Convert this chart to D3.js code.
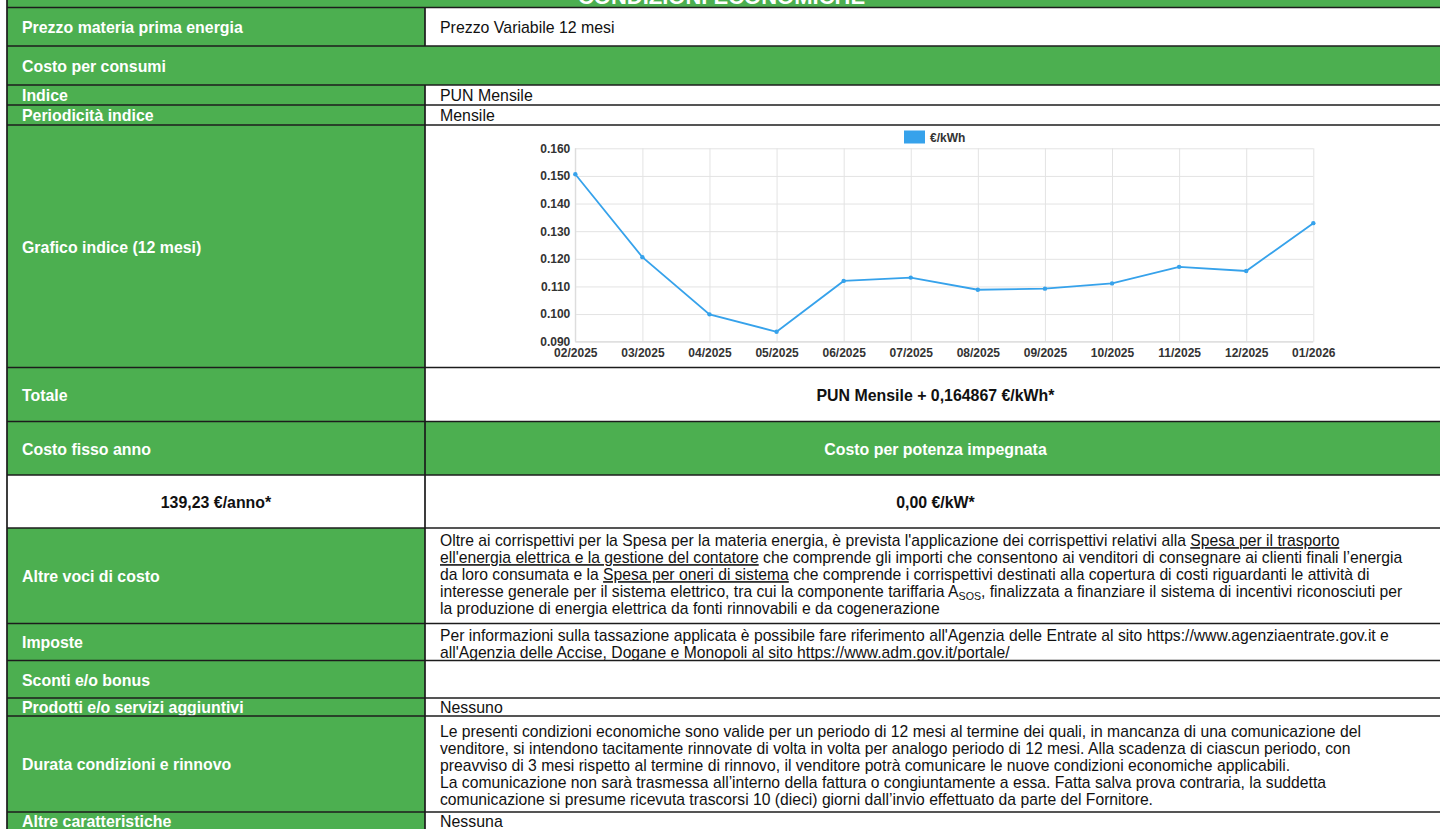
<!DOCTYPE html>
<html><head><meta charset="utf-8">
<script src="https://cdn.jsdelivr.net/npm/d3@7"></script>
<style>html,body{margin:0;padding:0;background:#fff;overflow:hidden}</style>
</head><body><svg id="c" width="1440" height="829"></svg>
<script>
// ---------------- DATA ----------------
const months = ["02/2025","03/2025","04/2025","05/2025","06/2025","07/2025","08/2025","09/2025","10/2025","11/2025","12/2025","01/2026"];
const punValues = [0.1506,0.1206,0.0999,0.0936,0.1120,0.1132,0.1088,0.1092,0.1111,0.1171,0.1156,0.1329];
const yTickValues = [0.090,0.100,0.110,0.120,0.130,0.140,0.150,0.160];
const seriesName = "€/kWh";
const titleText = "CONDIZIONI ECONOMICHE";

const rowLabels = ["Prezzo materia prima energia","Costo per consumi","Indice","Periodicità indice","Grafico indice (12 mesi)","Totale","Costo fisso anno","139,23 €/anno*","Altre voci di costo","Imposte","Sconti e/o bonus","Prodotti e/o servizi aggiuntivi","Durata condizioni e rinnovo","Altre caratteristiche"];
const rowValues = ["Prezzo Variabile 12 mesi","","PUN Mensile","Mensile","","PUN Mensile + 0,164867 €/kWh*","Costo per potenza impegnata","0,00 €/kW*","","","","Nessuno","","Nessuna"];

const altreVociLines = [
  [{t:"Oltre ai corrispettivi per la Spesa per la materia energia, è prevista l'applicazione dei corrispettivi relativi alla "},{t:"Spesa per il trasporto",u:1}],
  [{t:"ell'energia elettrica e la gestione del contatore",u:1},{t:" che comprende gli importi che consentono ai venditori di consegnare ai clienti finali l’energia"}],
  [{t:"da loro consumata e la "},{t:"Spesa per oneri di sistema",u:1},{t:" che comprende i corrispettivi destinati alla copertura di costi riguardanti le attività di"}],
  [{t:"interesse generale per il sistema elettrico, tra cui la componente tariffaria A"},{t:"SOS",s:1},{t:", finalizzata a finanziare il sistema di incentivi riconosciuti per"}],
  [{t:"la produzione di energia elettrica da fonti rinnovabili e da cogenerazione"}]
];
const imposteLines = [
  [{t:"Per informazioni sulla tassazione applicata è possibile fare riferimento all'Agenzia delle Entrate al sito https://www.agenziaentrate.gov.it e"}],
  [{t:"all'Agenzia delle Accise, Dogane e Monopoli al sito https://www.adm.gov.it/portale/"}]
];
const durataLines = [
  [{t:"Le presenti condizioni economiche sono valide per un periodo di 12 mesi al termine dei quali, in mancanza di una comunicazione del"}],
  [{t:"venditore, si intendono tacitamente rinnovate di volta in volta per analogo periodo di 12 mesi. Alla scadenza di ciascun periodo, con"}],
  [{t:"preavviso di 3 mesi rispetto al termine di rinnovo, il venditore potrà comunicare le nuove condizioni economiche applicabili."}],
  [{t:"La comunicazione non sarà trasmessa all’interno della fattura o congiuntamente a essa. Fatta salva prova contraria, la suddetta"}],
  [{t:"comunicazione si presume ricevuta trascorsi 10 (dieci) giorni dall’invio effettuato da parte del Fornitore."}]
];

// ---------------- LAYOUT ----------------
const GREEN = "#4caf50";
const FONT = "'Liberation Sans', Arial, Helvetica, sans-serif";
const X0 = 7, XC = 425, X1 = 1446;
const edges = [-40, 7.5, 46, 85, 105, 125, 367.5, 421.5, 475, 528, 623.5, 660.5, 698, 716, 812, 850];
const fills = [["span",GREEN],[GREEN,"#fff"],["span",GREEN],[GREEN,"#fff"],[GREEN,"#fff"],[GREEN,"#fff"],[GREEN,"#fff"],[GREEN,GREEN],["#fff","#fff"],[GREEN,"#fff"],[GREEN,"#fff"],[GREEN,"#fff"],[GREEN,"#fff"],[GREEN,"#fff"],[GREEN,"#fff"]];
const FS = 15.9;
const PFS = 15.7;

const svg = d3.select("#c");
svg.append("rect").attr("width",1440).attr("height",829).attr("fill","#fff");

fills.forEach((f,i)=>{
  const top = edges[i], bot = edges[i+1];
  if (f[0]==="span") {
    svg.append("rect").attr("x",X0).attr("y",top).attr("width",X1-X0).attr("height",bot-top).attr("fill",f[1]);
  } else {
    svg.append("rect").attr("x",X0).attr("y",top).attr("width",XC-X0).attr("height",bot-top).attr("fill",f[0]);
    svg.append("rect").attr("x",XC).attr("y",top).attr("width",X1-XC).attr("height",bot-top).attr("fill",f[1]);
  }
});

svg.append("text").attr("x",721.5).attr("y",3.5).attr("text-anchor","middle")
  .attr("font-family",FONT).attr("font-size",22).attr("font-weight","bold").attr("fill","#fff").text(titleText);

const mid = i => i===13 ? 821 : (edges[i+1]+edges[i+2])/2;
const base = i => mid(i) + 0.36*FS + 0.6;
rowLabels.forEach((lab,i)=>{
  if (i===7) {
    svg.append("text").attr("x",(X0+XC)/2).attr("y",base(i)).attr("text-anchor","middle")
      .attr("font-family",FONT).attr("font-size",FS).attr("font-weight","bold").attr("fill","#111").text(lab);
  } else {
    svg.append("text").attr("x",22).attr("y",base(i))
      .attr("font-family",FONT).attr("font-size",FS).attr("font-weight","bold").attr("fill","#fff").text(lab);
  }
});
rowValues.forEach((v,i)=>{
  if (!v) return;
  const centered = (i===5||i===6||i===7);
  svg.append("text").attr("x",centered?(XC+X1)/2:440).attr("y",base(i))
    .attr("text-anchor",centered?"middle":"start")
    .attr("font-family",FONT).attr("font-size",FS)
    .attr("font-weight",centered?"bold":"normal")
    .attr("fill",i===6?"#fff":"#111").text(v);
});

function paragraph(lines, firstCenter, fs){
  lines.forEach((segs,k)=>{
    const yb = firstCenter + k*17 + 0.36*fs;
    const t = svg.append("text").attr("x",440).attr("y",yb)
      .attr("font-family",FONT).attr("font-size",fs).attr("fill","#111");
    segs.forEach((s,j)=>{
      const ts = t.append("tspan").text(s.t);
      if (s.u) ts.style("text-decoration","underline");
      if (s.s) ts.attr("font-size",fs*0.68).attr("dy",3);
      else if (j>0 && segs[j-1].s) ts.attr("dy",-3);
    });
  });
}
paragraph(altreVociLines, 540.5, PFS);
paragraph(imposteLines, 635, PFS);
paragraph(durataLines, 731, PFS);

const bc = "#1c1c1c";
edges.slice(1,-1).forEach(e=>{
  svg.append("line").attr("x1",X0).attr("x2",X1).attr("y1",e).attr("y2",e).attr("stroke",bc).attr("stroke-width",1.7);
});
svg.append("line").attr("x1",X0).attr("x2",X0).attr("y1",-5).attr("y2",840).attr("stroke",bc).attr("stroke-width",1.7);
fills.forEach((f,i)=>{
  if (f[0]==="span") return;
  svg.append("line").attr("x1",XC).attr("x2",XC).attr("y1",edges[i]).attr("y2",edges[i+1]).attr("stroke",bc).attr("stroke-width",1.7);
});

// ---------------- CHART ----------------
const x = d3.scalePoint().domain(months).range([575.3,1313.3]);
const y = d3.scaleLinear().domain([0.09,0.16]).range([341.7,148.3]);
const chart = svg.append("g");

const ya = chart.append("g").attr("transform","translate(575.3,0)")
  .call(d3.axisLeft(y).tickValues(yTickValues).tickFormat(d3.format(".3f")).tickSize(-(1313.3-575.3)).tickPadding(5));
const xa = chart.append("g").attr("transform","translate(0,341.7)")
  .call(d3.axisBottom(x).tickSize(-(341.7-148.3)).tickPadding(7));
[ya,xa].forEach(a=>{
  a.select(".domain").remove();
  a.selectAll(".tick line").attr("stroke","#e3e3e3").attr("stroke-width",1);
  a.selectAll(".tick text").attr("font-family",FONT).attr("font-size",12).attr("font-weight","bold").attr("fill","#333");
});
chart.append("line").attr("x1",575.3).attr("x2",575.3).attr("y1",148.3).attr("y2",341.7).attr("stroke","#dadada");
chart.append("line").attr("x1",575.3).attr("x2",1313.3).attr("y1",341.7).attr("y2",341.7).attr("stroke","#dadada");

const pts = months.map((m,i)=>({m, v:punValues[i]}));
chart.append("path").datum(pts).attr("fill","none").attr("stroke","#36a2eb").attr("stroke-width",1.8)
  .attr("d", d3.line().x(d=>x(d.m)).y(d=>y(d.v)));
chart.selectAll("circle.p").data(pts).join("circle").attr("class","p")
  .attr("cx",d=>x(d.m)).attr("cy",d=>y(d.v)).attr("r",2.2).attr("fill","#36a2eb");

chart.append("rect").attr("x",904).attr("y",130.5).attr("width",21).attr("height",13).attr("fill","#36a2eb");
chart.append("text").attr("x",930).attr("y",141.5).attr("font-family",FONT).attr("font-size",12)
  .attr("font-weight","bold").attr("fill","#333").text(seriesName);
</script></body></html>
